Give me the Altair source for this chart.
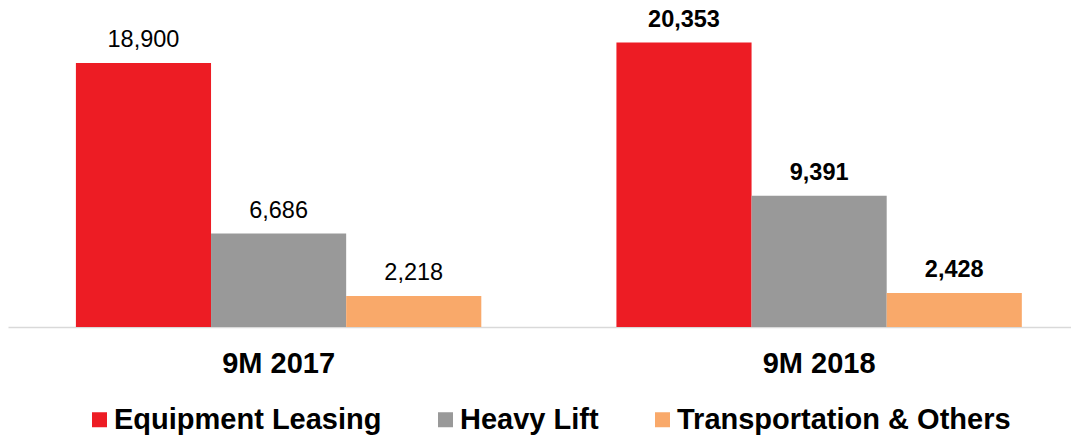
import altair as alt
import pandas as pd

years = ["9M 2017", "9M 2018"]
segments = ["Equipment Leasing", "Heavy Lift", "Transportation & Others"]
values_2017 = [18900, 6686, 2218]
values_2018 = [20353, 9391, 2428]
colors = ["#ED1C24", "#999999", "#F9A96A"]

rows = []
for seg, v in zip(segments, values_2017):
    rows.append({"year": years[0], "segment": seg, "value": v})
for seg, v in zip(segments, values_2018):
    rows.append({"year": years[1], "segment": seg, "value": v})
df = pd.DataFrame(rows)

FONT = "Liberation Sans"

x = alt.X(
    "year:N",
    sort=years,
    scale=alt.Scale(paddingInner=0.25, paddingOuter=0.1083, align=0.58),
    axis=alt.Axis(
        title=None, labelAngle=0, ticks=False, grid=False,
        domainColor="#D9D9D9", domainWidth=1.5,
        labelFontSize=29, labelFontWeight="bold", labelColor="black",
        labelFont=FONT, labelPadding=45, labelBaseline="alphabetic",
    ),
)
xo = alt.XOffset("segment:N", sort=segments,
                 scale=alt.Scale(paddingInner=0, paddingOuter=0))
y = alt.Y("value:Q", scale=alt.Scale(domain=[0, 22830], nice=False), axis=None)

bars = alt.Chart(df).mark_bar().encode(
    x=x, xOffset=xo, y=y,
    color=alt.Color(
        "segment:N", sort=segments,
        scale=alt.Scale(domain=segments, range=colors),
        legend=alt.Legend(
            title=None, orient="none", legendX=77, legendY=397,
            direction="horizontal", symbolType="square", symbolSize=225,
            symbolStrokeWidth=0, labelFontSize=29, labelFontWeight="bold",
            labelFont=FONT, labelColor="black", labelOffset=0,
            columnPadding=49, padding=0, symbolOffset=0, labelLimit=600,
        ),
    ),
)

lab17 = alt.Chart(df).transform_filter(alt.datum.year == years[0]).mark_text(
    font=FONT, fontSize=23.5, fontWeight="normal", color="black",
    baseline="alphabetic", dy=-16,
).encode(x=x, xOffset=xo, y=y, text=alt.Text("value:Q", format=","))

lab18 = alt.Chart(df).transform_filter(alt.datum.year == years[1]).mark_text(
    font=FONT, fontSize=23.5, fontWeight="bold", color="black",
    baseline="alphabetic", dy=-16,
).encode(x=x, xOffset=xo, y=y, text=alt.Text("value:Q", format=","))

chart = alt.layer(bars, lab17, lab18).properties(
    width=1063, height=319,
    autosize=alt.AutoSizeParams(type="none"),
    padding={"left": 0, "top": 0, "right": 0, "bottom": 109},
).configure_view(strokeWidth=0)

chart.save("out.html", embed_options={"renderer": "svg", "actions": False})
